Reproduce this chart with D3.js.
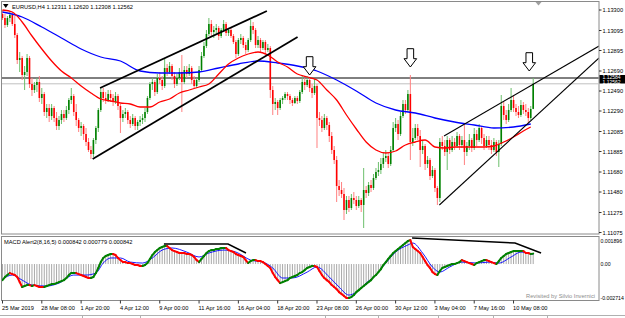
<!DOCTYPE html>
<meta charset="utf-8">
<style>
    body { margin: 0; background: #fff; }
    svg text { font-family: "Liberation Sans", Arial, sans-serif; font-size: 5.7px; fill: #000; }
</style>
<body>
<script src="https://cdn.jsdelivr.net/npm/d3@7/dist/d3.min.js"></script>
<script>

    var width = 625,
        height = 318;

    // EURUSD H4 candles, one per bar, left to right
    var opens = [1.1326,1.1322,1.1315,1.1322,1.1325,1.1316,1.1305,1.1280,1.1282,1.1265,
        1.1268,1.1282,1.1256,1.1250,1.1255,1.1258,1.1242,1.1246,1.1228,1.1232,
        1.1224,1.1232,1.1222,1.1214,1.1220,1.1226,1.1222,1.1230,1.1240,1.1244,
        1.1228,1.1220,1.1212,1.1214,1.1206,1.1198,1.1190,1.1186,1.1200,1.1212,
        1.1230,1.1248,1.1242,1.1240,1.1246,1.1242,1.1238,1.1244,1.1234,1.1222,
        1.1226,1.1228,1.1220,1.1216,1.1222,1.1214,1.1218,1.1220,1.1222,1.1228,
        1.1242,1.1256,1.1258,1.1248,1.1262,1.1260,1.1254,1.1272,1.1268,1.1274,
        1.1264,1.1256,1.1262,1.1268,1.1258,1.1270,1.1266,1.1272,1.1260,1.1254,
        1.1260,1.1270,1.1284,1.1294,1.1306,1.1316,1.1308,1.1310,1.1312,1.1304,
        1.1310,1.1316,1.1307,1.1310,1.1304,1.1298,1.1286,1.1300,1.1302,1.1295,
        1.1290,1.1300,1.1314,1.1310,1.1295,1.1300,1.1292,1.1298,1.1290,1.1292,
        1.1250,1.1236,1.1238,1.1232,1.1240,1.1242,1.1246,1.1244,1.1240,1.1237,
        1.1242,1.1239,1.1248,1.1258,1.1255,1.1260,1.1252,1.1247,1.1254,1.1222,
        1.1220,1.1212,1.1222,1.1215,1.1204,1.1190,1.1180,1.1154,1.1150,1.1146,
        1.1130,1.1140,1.1132,1.1142,1.1140,1.1134,1.1140,1.1135,1.1150,1.1147,
        1.1155,1.1152,1.1162,1.1168,1.1170,1.1176,1.1182,1.1184,1.1176,1.1190,
        1.1212,1.1216,1.1206,1.1224,1.1236,1.1230,1.1246,1.1198,1.1202,1.1212,
        1.1204,1.1190,1.1194,1.1176,1.1180,1.1164,1.1170,1.1152,1.1142,1.1198,
        1.1194,1.1188,1.1200,1.1190,1.1198,1.1194,1.1204,1.1195,1.1200,1.1188,
        1.1194,1.1200,1.1192,1.1206,1.1200,1.1212,1.1202,1.1194,1.1200,1.1195,
        1.1190,1.1198,1.1188,1.1196,1.1234,1.1225,1.1220,1.1230,1.1240,1.1232,
        1.1228,1.1225,1.1235,1.1230,1.1228,1.1222,1.12311];
    var highs = [1.1330,1.1326,1.1324,1.1328,1.1328,1.1324,1.1307,1.1288,1.1284,1.1274,
        1.1286,1.1284,1.1262,1.1258,1.1262,1.1264,1.1252,1.1248,1.1236,1.1236,
        1.1236,1.1234,1.1228,1.1224,1.1230,1.1230,1.1234,1.1242,1.1252,1.1246,
        1.1236,1.1222,1.1218,1.1216,1.1212,1.1202,1.1194,1.1202,1.1214,1.1232,
        1.1252,1.1252,1.1248,1.1250,1.1250,1.1246,1.1248,1.1246,1.1236,1.1230,
        1.1232,1.1230,1.1224,1.1226,1.1224,1.1220,1.1224,1.1226,1.1232,1.1244,
        1.1258,1.1262,1.1260,1.1266,1.1268,1.1264,1.1282,1.1276,1.1278,1.1276,
        1.1268,1.1266,1.1272,1.1285,1.1274,1.1274,1.1276,1.1274,1.1264,1.1262,
        1.1274,1.1288,1.1298,1.1310,1.1322,1.1320,1.1314,1.1316,1.1314,1.1312,
        1.1320,1.1318,1.1312,1.1312,1.1306,1.1300,1.1302,1.1306,1.1304,1.1298,
        1.1302,1.1320,1.1318,1.1312,1.1304,1.1302,1.1300,1.1300,1.1296,1.1294,
        1.1254,1.1242,1.1240,1.1242,1.1244,1.1248,1.1248,1.1246,1.1242,1.1244,
        1.1244,1.1250,1.1265,1.1262,1.1264,1.1262,1.1256,1.1262,1.1256,1.1228,
        1.1224,1.1226,1.1224,1.1218,1.1208,1.1194,1.1184,1.1160,1.1158,1.1152,
        1.1144,1.1144,1.1146,1.1148,1.1144,1.1144,1.1142,1.1172,1.1154,1.1158,
        1.1160,1.1166,1.1172,1.1178,1.1182,1.1188,1.1190,1.1188,1.1194,1.1218,
        1.1222,1.1220,1.1228,1.1240,1.1240,1.1250,1.1265,1.1212,1.1216,1.1216,
        1.1210,1.1200,1.1196,1.1184,1.1182,1.1174,1.1172,1.1154,1.1202,1.1204,
        1.1200,1.1204,1.1202,1.1204,1.1202,1.1208,1.1206,1.1204,1.1215,1.1198,
        1.1206,1.1202,1.1212,1.1210,1.1216,1.1214,1.1206,1.1204,1.1204,1.1200,
        1.1202,1.1200,1.1200,1.1245,1.1238,1.1230,1.1236,1.1252,1.1244,1.1236,
        1.1234,1.1240,1.1238,1.1236,1.1232,1.1234,1.12620];
    var lows = [1.1320,1.1312,1.1313,1.1318,1.1314,1.1302,1.1276,1.1268,1.1260,1.1250,
        1.1264,1.1252,1.1244,1.1247,1.1248,1.1238,1.1236,1.1224,1.1222,1.1218,
        1.1220,1.1218,1.1210,1.1210,1.1216,1.1218,1.1220,1.1226,1.1236,1.1224,
        1.1214,1.1208,1.1204,1.1200,1.1194,1.1188,1.1181,1.1183,1.1196,1.1208,
        1.1228,1.1238,1.1236,1.1238,1.1238,1.1234,1.1236,1.1230,1.1207,1.1218,
        1.1222,1.1216,1.1212,1.1214,1.1210,1.1210,1.1214,1.1216,1.1218,1.1226,
        1.1240,1.1250,1.1244,1.1246,1.1256,1.1250,1.1252,1.1264,1.1266,1.1260,
        1.1252,1.1254,1.1260,1.1228,1.1256,1.1262,1.1264,1.1256,1.1252,1.1252,
        1.1258,1.1268,1.1282,1.1292,1.1304,1.1304,1.1302,1.1306,1.1300,1.1302,
        1.1308,1.1304,1.1304,1.1302,1.1296,1.1282,1.1284,1.1296,1.1292,1.1286,
        1.1288,1.1298,1.1306,1.1292,1.1292,1.1288,1.1290,1.1286,1.1288,1.1242,
        1.1225,1.1230,1.1225,1.1230,1.1236,1.1240,1.1240,1.1236,1.1234,1.1236,
        1.1236,1.1237,1.1246,1.1250,1.1253,1.1248,1.1242,1.1245,1.1192,1.1214,
        1.1208,1.1210,1.1210,1.1198,1.1186,1.1176,1.1138,1.1144,1.1142,1.1120,
        1.1126,1.1128,1.1130,1.1136,1.1130,1.1132,1.1128,1.1112,1.1142,1.1144,
        1.1148,1.1150,1.1160,1.1164,1.1166,1.1172,1.1178,1.1172,1.1174,1.1188,
        1.1208,1.1200,1.1204,1.1222,1.1226,1.1228,1.1180,1.1194,1.1200,1.1200,
        1.1173,1.1186,1.1170,1.1172,1.1160,1.1162,1.1148,1.1135,1.1138,1.1190,
        1.1184,1.1170,1.1186,1.1188,1.1190,1.1192,1.1190,1.1192,1.1175,1.1184,
        1.1190,1.1188,1.1190,1.1194,1.1198,1.1196,1.1190,1.1192,1.1190,1.1186,
        1.1188,1.1184,1.1173,1.1194,1.1220,1.1216,1.1218,1.1228,1.1228,1.1224,
        1.1222,1.1223,1.1226,1.1224,1.1217,1.1220,1.12308];
    var closes = [1.1322,1.1315,1.1322,1.1325,1.1316,1.1305,1.1280,1.1282,1.1265,1.1268,
        1.1282,1.1256,1.1250,1.1255,1.1258,1.1242,1.1246,1.1228,1.1232,1.1224,
        1.1232,1.1222,1.1214,1.1220,1.1226,1.1222,1.1230,1.1240,1.1244,1.1228,
        1.1220,1.1212,1.1214,1.1206,1.1198,1.1190,1.1186,1.1200,1.1212,1.1230,
        1.1248,1.1242,1.1240,1.1246,1.1242,1.1238,1.1244,1.1234,1.1222,1.1226,
        1.1228,1.1220,1.1216,1.1222,1.1214,1.1218,1.1220,1.1222,1.1228,1.1242,
        1.1256,1.1258,1.1248,1.1262,1.1260,1.1254,1.1272,1.1268,1.1274,1.1264,
        1.1256,1.1262,1.1268,1.1258,1.1270,1.1266,1.1272,1.1260,1.1254,1.1260,
        1.1270,1.1284,1.1294,1.1306,1.1316,1.1308,1.1310,1.1312,1.1304,1.1310,
        1.1316,1.1307,1.1310,1.1304,1.1298,1.1286,1.1300,1.1302,1.1295,1.1290,
        1.1300,1.1314,1.1310,1.1295,1.1300,1.1292,1.1298,1.1290,1.1292,1.1250,
        1.1236,1.1238,1.1232,1.1240,1.1242,1.1246,1.1244,1.1240,1.1237,1.1242,
        1.1239,1.1248,1.1258,1.1255,1.1260,1.1252,1.1247,1.1254,1.1222,1.1220,
        1.1212,1.1222,1.1215,1.1204,1.1190,1.1180,1.1154,1.1150,1.1146,1.1130,
        1.1140,1.1132,1.1142,1.1140,1.1134,1.1140,1.1135,1.1150,1.1147,1.1155,
        1.1152,1.1162,1.1168,1.1170,1.1176,1.1182,1.1184,1.1176,1.1190,1.1212,
        1.1216,1.1206,1.1224,1.1236,1.1230,1.1246,1.1198,1.1202,1.1212,1.1204,
        1.1190,1.1194,1.1176,1.1180,1.1164,1.1170,1.1152,1.1142,1.1198,1.1194,
        1.1188,1.1200,1.1190,1.1198,1.1194,1.1204,1.1195,1.1200,1.1188,1.1194,
        1.1200,1.1192,1.1206,1.1200,1.1212,1.1202,1.1194,1.1200,1.1195,1.1190,
        1.1198,1.1188,1.1196,1.1234,1.1225,1.1220,1.1230,1.1240,1.1232,1.1228,
        1.1225,1.1235,1.1230,1.1228,1.1222,1.1231,1.12562];

    // moving averages, read at a few bars
    var redMaBars = [0,4,8,12,16,20,24,28,32,36,40,44,48,52,56,60,64,68,72,76,80,84,88,92,96,100,
        104,108,112,116,120,124,128,132,136,140,144,148,152,156,160,164,168,172,176,180,184,188,192,196,200,204,208,212,215];
    var redMaValues = [1.1330,1.1328,1.1318,1.1304,1.1291,1.1279,1.1269,1.1262,1.1254,1.1247,1.1241,1.1239,1.1237,1.1236,
        1.1233,1.1233,1.1238,1.1241,1.1247,1.1250,1.1253,1.1256,1.1266,1.1276,1.1282,1.1286,1.1288,1.1285,1.1278,1.1273,
        1.1266,1.1263,1.1260,1.1250,1.1240,1.1225,1.1211,1.1198,1.1190,1.1187,1.1189,1.1195,1.1198,1.1200,1.1193,1.1192,
        1.1193,1.1193,1.1193,1.1193,1.1194,1.1198,1.1203,1.1209,1.1213];
    var blueMaBars = [0,8,16,24,32,40,48,56,64,72,80,88,96,104,112,120,128,136,144,152,160,168,176,184,192,200,208,215];
    var blueMaValues = [1.1328,1.1323,1.1313,1.1302,1.1291,1.1283,1.1279,1.1269,1.1267,1.1267,1.1268,1.1272,1.1276,1.1279,
        1.1277,1.1274,1.1269,1.1260,1.1249,1.1237,1.1230,1.1227,1.1222,1.1218,1.1215,1.1212,1.1213,1.1216];

    // MACD main line, one value per bar (also drawn as the grey histogram)
    var macdValues = [-0.00130,-0.00105,-0.00089,-0.00073,-0.00081,-0.00089,-0.00105,-0.00146,-0.00186,-0.00178,
        -0.00170,-0.00170,-0.00178,-0.00170,-0.00178,-0.00186,-0.00186,-0.00186,-0.00178,-0.00170,
        -0.00162,-0.00162,-0.00154,-0.00146,-0.00138,-0.00130,-0.00113,-0.00089,-0.00073,-0.00073,
        -0.00073,-0.00081,-0.00089,-0.00097,-0.00105,-0.00113,-0.00113,-0.00105,-0.00073,-0.00032,
        0.00016,0.00049,0.00065,0.00073,0.00081,0.00081,0.00073,0.00049,0.00032,0.00016,
        0.00016,0.00008,0.00008,0,-0.00008,-0.00008,-0.00016,-0.00016,-0.00008,0.00008,
        0.00041,0.00073,0.00097,0.00113,0.00130,0.00138,0.00146,0.00146,0.00130,0.00113,
        0.00105,0.00097,0.00089,0.00089,0.00089,0.00081,0.00081,0.00073,0.00057,0.00032,
        0.00016,0.00041,0.00065,0.00089,0.00105,0.00113,0.00113,0.00122,0.00122,0.00130,
        0.00130,0.00130,0.00113,0.00105,0.00097,0.00081,0.00073,0.00065,0.00057,0.00032,
        0.00008,0.00024,0.00032,0.00032,0.00024,0.00024,0.00016,0,-0.00016,-0.00032,
        -0.00073,-0.00105,-0.00130,-0.00154,-0.00146,-0.00138,-0.00130,-0.00113,-0.00105,-0.00097,
        -0.00089,-0.00073,-0.00065,-0.00049,-0.00032,-0.00024,-0.00016,-0.00016,-0.00024,-0.00057,
        -0.00089,-0.00113,-0.00130,-0.00146,-0.00170,-0.00186,-0.00203,-0.00227,-0.00243,-0.00259,
        -0.00275,-0.00275,-0.00267,-0.00251,-0.00227,-0.00211,-0.00194,-0.00178,-0.00162,-0.00146,
        -0.00130,-0.00105,-0.00089,-0.00065,-0.00041,-0.00008,0.00016,0.00041,0.00065,0.00089,
        0.00105,0.00122,0.00138,0.00154,0.00170,0.00186,0.00194,0.00138,0.00122,0.00105,
        0.00089,0.00057,0.00024,-0.00008,-0.00032,-0.00065,-0.00081,-0.00089,-0.00057,-0.00032,
        -0.00024,-0.00016,-0.00008,0,0,0.00008,0.00016,0.00032,0.00024,0.00016,
        0.00008,0,-0.00008,0.00008,0.00016,0.00024,0.00032,0.00032,0.00024,0.00016,
        0.00008,0,0.00024,0.00049,0.00065,0.00081,0.00089,0.00097,0.00105,0.00105,
        0.00105,0.00105,0.00105,0.00089,0.00089,0.00081,0.000842];
    var signalBars = [0,4,8,12,18,23,29,34,38,41,44,48,52,57,61,65,69,75,80,84,90,95,101,106,110,114,118,124,128,
        133,137,141,144,148,152,156,160,165,167,171,175,178,182,187,193,198,202,207,211,216];
    var signalValues = [-0.00122,-0.00089,-0.00130,-0.00170,-0.00178,-0.00154,-0.00089,-0.00089,-0.00073,0.00008,
        0.00049,0.00049,0.00016,0.00008,0.00049,0.00113,0.00130,0.00097,0.00057,0.00089,
        0.00113,0.00097,0.00032,0.00016,-0.00032,-0.00113,-0.00113,-0.00065,-0.00024,-0.00105,
        -0.00186,-0.00251,-0.00227,-0.00154,-0.00089,0.00008,0.00097,0.00154,0.00170,0.00089,
        -0.00024,-0.00065,-0.00024,0.00016,0.00008,0.00016,0.00008,0.00057,0.00097,0.000779];

    var priceTicks = [1.13300,1.13095,1.12895,1.12690,1.12490,1.12290,1.12085,1.11885,1.11680,1.11480,1.11275,1.11075];
    var macdTicks = [0.001896, 0, -0.002714];
    var macdTickLabels = ["0.001896", "0.00", "-0.002714"];
    var timeLabels = ["25 Mar 2019","28 Mar 08:00","1 Apr 20:00","4 Apr 12:00","9 Apr 00:00","11 Apr 16:00",
        "16 Apr 04:00","18 Apr 20:00","23 Apr 08:00","26 Apr 00:00","30 Apr 12:00","3 May 04:00","7 May 16:00","10 May 08:00"];
    var barsPerLabel = 16;

    // drawn objects: [bar, price]
    var trendLines = [
        [[39.7, 1.1252], [107.6, 1.1329]],
        [[36.7, 1.1181], [120.1, 1.1303]],
        [[179.7, 1.1204], [242.8, 1.1294]],
        [[177.8, 1.1135], [242.8, 1.1282]]
    ];
    var arrowMarks = [[125, 1.1265], [166, 1.1273], [214.4, 1.1269]];
    var macdTrendLines = [
        [[65.7, 0.00162], [91.8, 0.00162], [99.1, 0.00089]],
        [[166.7, 0.00211], [208.6, 0.00170], [219.2, 0.00089]]
    ];
    var markLine = 1.12620,
        bidPrice = 1.12562;

    var x = d3.scaleLinear().domain([0, 216]).range([2.5, 533.2]);
    var y = d3.scaleLinear().domain([1.11075, 1.13300]).range([232.5, 10]);
    var m = d3.scaleLinear().domain([-0.002714, 0.001896]).range([297.6, 240.6]);

    var svg = d3.select("body").append("svg")
        .attr("width", width)
        .attr("height", height);

    var defs = svg.append("defs");
    defs.append("clipPath").attr("id", "mainClip")
        .append("rect").attr("x", 2).attr("y", 2).attr("width", 596.5).attr("height", 231.5);
    defs.append("clipPath").attr("id", "macdClip")
        .append("rect").attr("x", 2).attr("y", 236.5).attr("width", 596.5).attr("height", 63.5);

    // frames
    svg.append("rect").attr("x", 1.5).attr("y", 1.5).attr("width", 597.5).attr("height", 232.5)
        .attr("fill", "none").attr("stroke", "#8a8a8a").attr("stroke-width", 1);
    svg.append("rect").attr("x", 1.5).attr("y", 236.5).attr("width", 597.5).attr("height", 64)
        .attr("fill", "none").attr("stroke", "#8a8a8a").attr("stroke-width", 1);
    svg.append("line").attr("x1", 0).attr("x2", width).attr("y1", 315.5).attr("y2", 315.5)
        .attr("stroke", "#b0b0b0");
    svg.selectAll(".tab").data([82, 140, 325, 378, 438, 493, 547]).join("line").attr("class", "tab")
        .attr("x1", d => d + 0.5).attr("x2", d => d + 0.5).attr("y1", 315.5).attr("y2", 318)
        .attr("stroke", "#b0b0b0");

    var main = svg.append("g").attr("clip-path", "url(#mainClip)");

    // horizontal lines
    main.append("line").attr("x1", 0).attr("x2", 600).attr("y1", y(bidPrice)).attr("y2", y(bidPrice))
        .attr("stroke", "#c0c0c0").attr("stroke-width", 1);
    main.append("line").attr("x1", 0).attr("x2", 600).attr("y1", y(markLine)).attr("y2", y(markLine))
        .attr("stroke", "#000").attr("stroke-width", 1);

    var bars = d3.range(closes.length);
    var up = function(i) { return closes[i] >= opens[i]; };

    main.selectAll(".wick").data(bars).join("line").attr("class", "wick")
        .attr("x1", i => x(i)).attr("x2", i => x(i))
        .attr("y1", i => y(highs[i])).attr("y2", i => y(lows[i]))
        .attr("stroke", i => up(i) ? "#6cbf6c" : "#ff8080")
        .attr("stroke-width", 1);
    main.selectAll(".body").data(bars).join("rect").attr("class", "body")
        .attr("x", i => x(i) - 0.8).attr("width", 1.6)
        .attr("y", i => y(Math.max(opens[i], closes[i])))
        .attr("height", i => Math.max(0.8, Math.abs(y(opens[i]) - y(closes[i]))))
        .attr("fill", i => up(i) ? "#008000" : "#ff0000");

    var maLine = d3.line()
        .x(d => x(d[0]))
        .y(d => y(d[1]))
        .curve(d3.curveMonotoneX);

    main.append("path").attr("d", maLine(d3.zip(blueMaBars, blueMaValues)))
        .attr("fill", "none").attr("stroke", "#0000ff").attr("stroke-width", 1.3);
    main.append("path").attr("d", maLine(d3.zip(redMaBars, redMaValues)))
        .attr("fill", "none").attr("stroke", "#ff0000").attr("stroke-width", 1.3);

    var trendWidths = [1.8, 1.8, 1.1, 1.1];
    main.selectAll(".trend").data(trendLines).join("line").attr("class", "trend")
        .attr("x1", d => x(d[0][0])).attr("y1", d => y(d[0][1]))
        .attr("x2", d => x(d[1][0])).attr("y2", d => y(d[1][1]))
        .attr("stroke", "#000").attr("stroke-width", (d, i) => trendWidths[i]);

    // outlined down arrows, tip at the mark
    main.selectAll(".arrow").data(arrowMarks).join("path").attr("class", "arrow")
        .attr("transform", d => "translate(" + x(d[0]) + "," + y(d[1]) + ")")
        .attr("d", "M-3.3,-18.3L3.3,-18.3L3.3,-8.3L6.3,-8.3L0,0L-6.3,-8.3L-3.3,-8.3Z")
        .attr("fill", "#fff").attr("stroke", "#000").attr("stroke-width", 1);

    // MACD panel
    var sub = svg.append("g").attr("clip-path", "url(#macdClip)");

    sub.selectAll(".hist").data(bars).join("line").attr("class", "hist")
        .attr("x1", i => x(i)).attr("x2", i => x(i))
        .attr("y1", m(0)).attr("y2", i => m(macdValues[i]))
        .attr("stroke", "#a9a9a9").attr("stroke-width", 1);

    sub.append("path")
        .attr("d", d3.line().x(d => x(d[0])).y(d => m(d[1])).curve(d3.curveMonotoneX)(d3.zip(signalBars, signalValues)))
        .attr("fill", "none").attr("stroke", "#0000ff").attr("stroke-width", 0.9);

    var lastColor = "#008000";
    var segs = bars.slice(1).map(function(i) {
        var c = macdValues[i] > macdValues[i - 1] ? "#008000" : macdValues[i] < macdValues[i - 1] ? "#ff0000" : lastColor;
        lastColor = c;
        return { i: i, c: c };
    });
    sub.selectAll(".macd").data(segs).join("line").attr("class", "macd")
        .attr("x1", d => x(d.i - 1)).attr("y1", d => m(macdValues[d.i - 1]))
        .attr("x2", d => x(d.i)).attr("y2", d => m(macdValues[d.i]))
        .attr("stroke", d => d.c).attr("stroke-width", 2).attr("stroke-linecap", "round");

    sub.selectAll(".mtrend").data(macdTrendLines).join("path").attr("class", "mtrend")
        .attr("d", d3.line().x(d => x(d[0])).y(d => m(d[1])))
        .attr("fill", "none").attr("stroke", "#000").attr("stroke-width", 1.5);

    // texts
    svg.append("path").attr("d", "M3,4L8.5,4L5.75,8Z").attr("fill", "#000");
    svg.append("path").attr("d", "M535.5,2L541.5,2L538.5,5.5Z").attr("fill", "#a0a0a0");
    svg.append("text").attr("x", 12).attr("y", 9).text("EURUSD,H4  1.12311 1.12620 1.12308 1.12562");
    svg.append("text").attr("x", 4).attr("y", 243.8).text("MACD Alert2(8,16,5) 0.000842 0.000779 0.000842");
    svg.append("text").attr("x", 595).attr("y", 297.5).attr("text-anchor", "end")
        .style("fill", "#8c8c8c").text("Revisited by Silvio Invernici");

    svg.selectAll(".ptick").data(priceTicks).join("line").attr("class", "ptick")
        .attr("x1", 599).attr("x2", 601.5).attr("y1", d => y(d)).attr("y2", d => y(d))
        .attr("stroke", "#000").attr("stroke-width", 0.8);
    svg.selectAll(".plab").data(priceTicks).join("text").attr("class", "plab")
        .attr("x", 602.5).attr("y", d => y(d) + 2)
        .text(d => d.toFixed(5));

    svg.append("rect").attr("x", 599.5).attr("y", y(markLine) - 3).attr("width", 25.5).attr("height", 8.5)
        .attr("fill", "#000");
    svg.append("text").attr("x", 602.5).attr("y", y(markLine) + 1.2).style("fill", "#fff").style("font-size", "5px")
        .text("1.12584");
    svg.append("text").attr("x", 602.5).attr("y", y(bidPrice) + 0.6).style("fill", "#fff").style("font-size", "5px")
        .text(bidPrice.toFixed(5));

    svg.selectAll(".mlab").data(macdTicks).join("text").attr("class", "mlab")
        .attr("x", 600.5).attr("y", d => m(d) + 2)
        .style("font-size", "5.2px")
        .text((d, i) => macdTickLabels[i]);

    svg.selectAll(".ttick").data(timeLabels).join("line").attr("class", "ttick")
        .attr("x1", (d, i) => x(i * barsPerLabel)).attr("x2", (d, i) => x(i * barsPerLabel))
        .attr("y1", 300.5).attr("y2", 303.5)
        .attr("stroke", "#000").attr("stroke-width", 0.8);
    svg.selectAll(".tlab").data(timeLabels).join("text").attr("class", "tlab")
        .attr("x", (d, i) => x(i * barsPerLabel) - 0.5).attr("y", 309.5)
        .text(d => d);

</script>
